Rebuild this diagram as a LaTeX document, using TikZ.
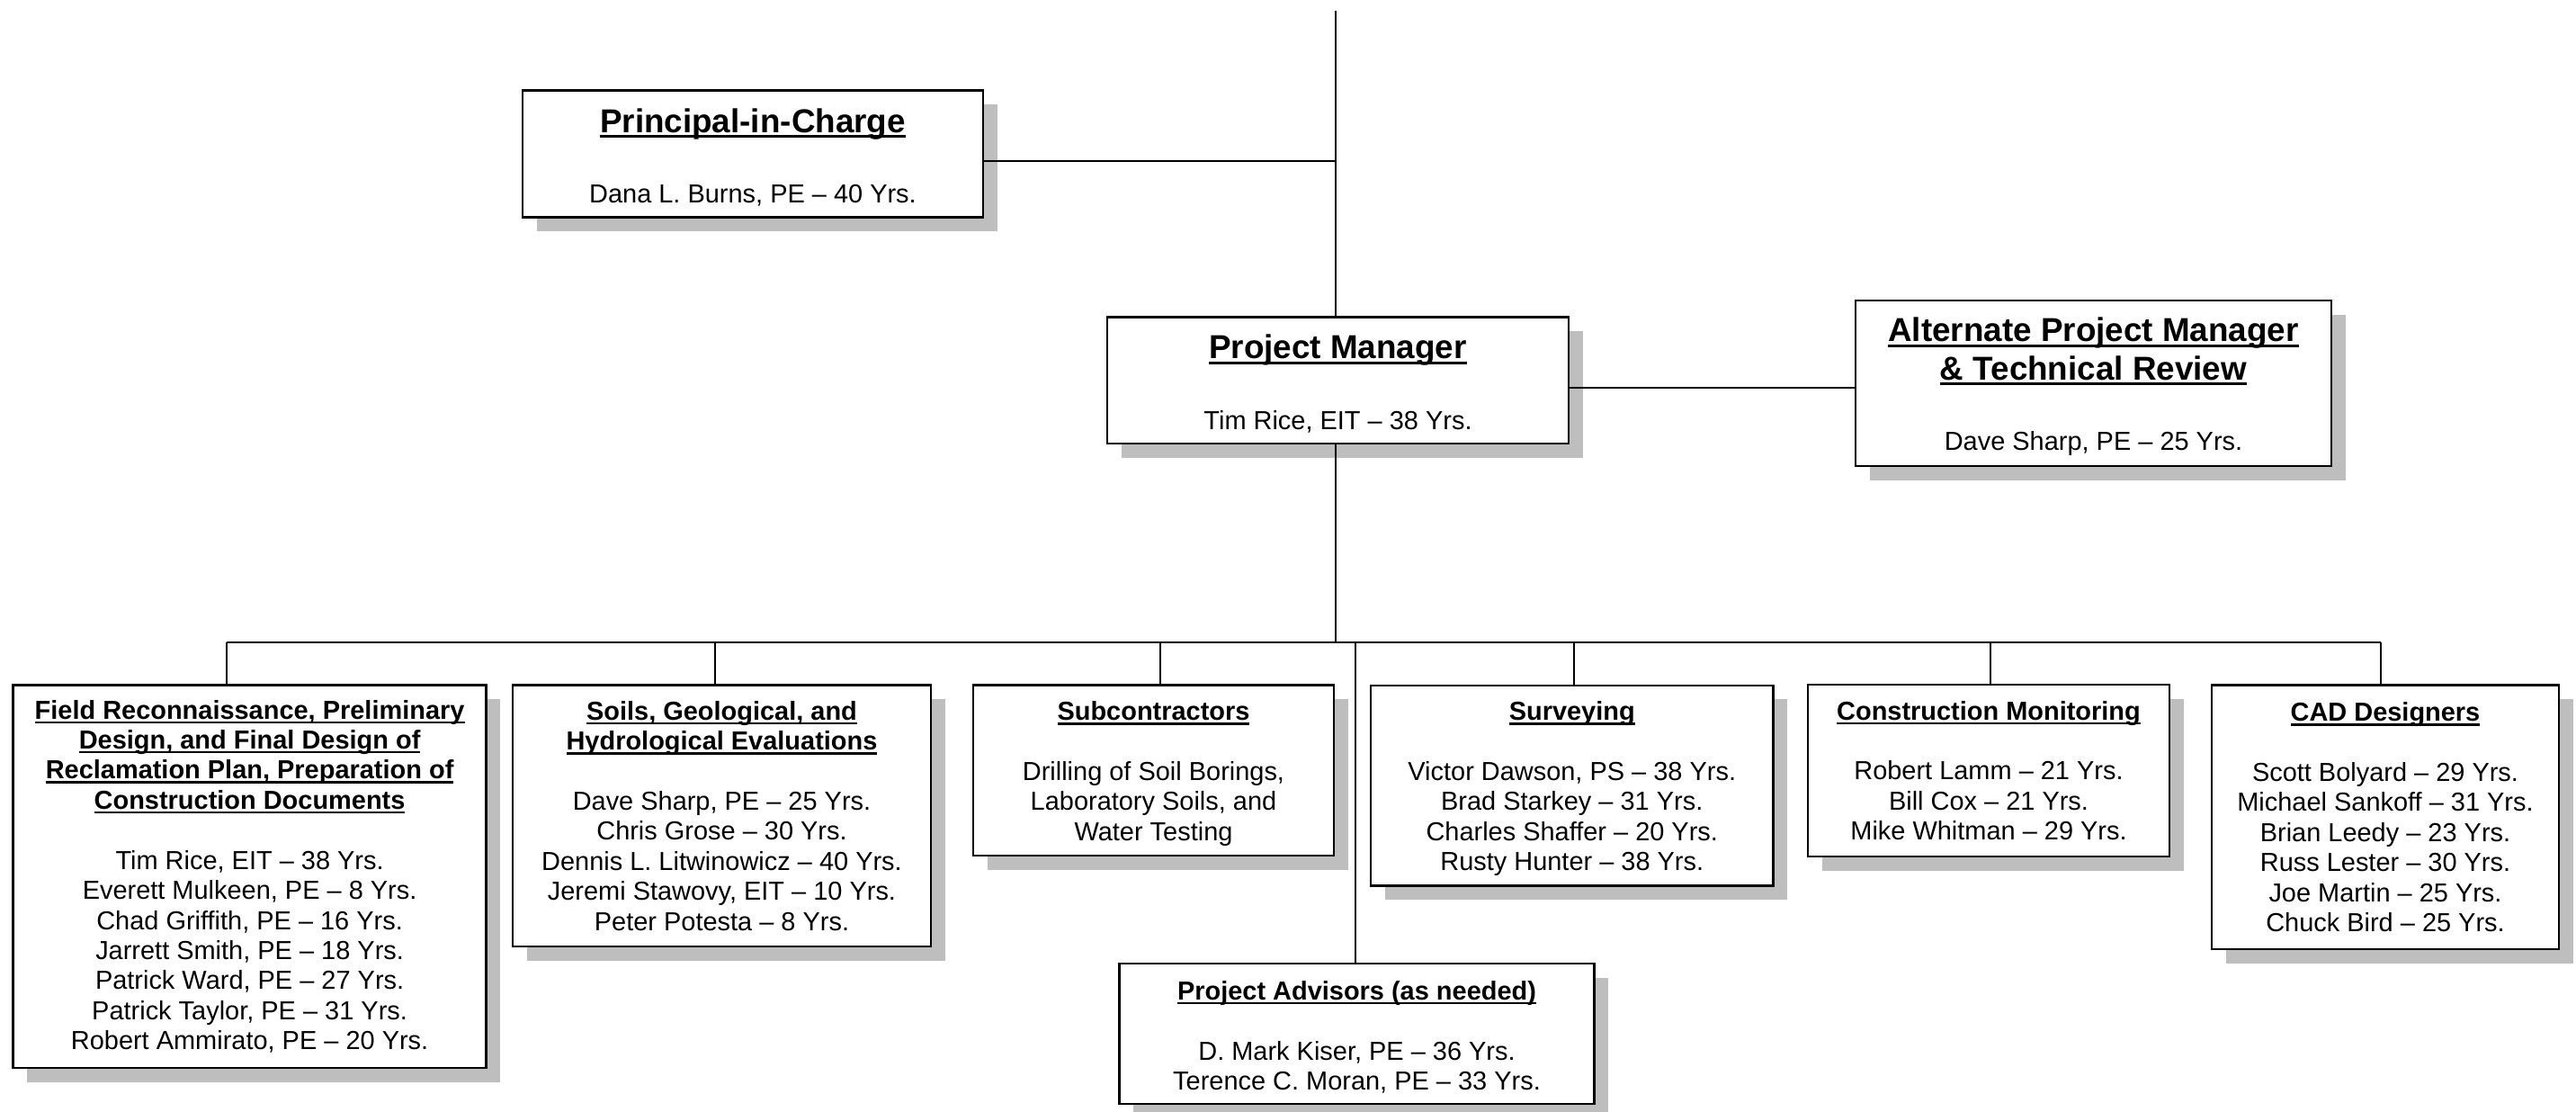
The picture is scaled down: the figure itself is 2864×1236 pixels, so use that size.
\documentclass[tikz,border=0pt]{standalone}
\usepackage{fontspec}
\setmainfont{Liberation Sans}
\usetikzlibrary{shadows}
\definecolor{shadowgray}{RGB}{190,190,190}
\newcommand{\ulx}[1]{\leavevmode\setbox0\hbox{#1}\rlap{\rule[-0.17em]{\wd0}{0.085em}}\box0}
\newcommand{\hdr}[1]{{\bfseries\ulx{#1}}}
\newcommand{\tophdr}[1]{{\fontsize{14}{16.1}\selectfont\bfseries\ulx{#1}}}
\newcommand{\orgfont}{\fontsize{11}{12.7}\selectfont\lineskiplimit-50pt\relax}
\newcommand{\topstrut}[1]{\rule{0pt}{#1}}
\begin{document}
\begin{tikzpicture}[x=0.38pt,y=-0.38pt,
  box/.style={draw=black,line width=0.9pt,fill=white,inner sep=0pt,align=center,
    drop shadow={shadow xshift=6pt,shadow yshift=-6pt,opacity=1,fill=shadowgray}},
  conn/.style={draw=black,line width=0.7pt},
  font=\orgfont]
\path[use as bounding box,fill=white] (0,0) rectangle (2864,1236);

% top level boxes
\node[box,minimum width=194.6pt,minimum height=53.6pt] (prin) at (837,171)
  {\topstrut{13pt}\tophdr{Principal-in-Charge}\\[17pt]Dana L. Burns, PE – 40 Yrs.};
\node[box,minimum width=194.9pt,minimum height=53.4pt] (pm) at (1487.5,422.75)
  {\topstrut{13pt}\tophdr{Project Manager}\\[17pt]Tim Rice, EIT – 38 Yrs.};
\node[box,minimum width=201pt,minimum height=69.9pt] (alt) at (2327.5,426)
  {\topstrut{13pt}\tophdr{Alternate Project Manager}\\[3.3pt]\tophdr{\& Technical Review}\\[17pt]Dave Sharp, PE – 25 Yrs.};

% lower boxes
\node[box,minimum width=199.9pt,minimum height=161.7pt] (field) at (277.6,974.3)
  {\hdr{Field Reconnaissance, Preliminary}\\ \hdr{Design, and Final Design of}\\
   \hdr{Reclamation Plan, Preparation of}\\ \hdr{Construction Documents}\\[12.7pt]
   Tim Rice, EIT – 38 Yrs.\\ Everett Mulkeen, PE – 8 Yrs.\\ Chad Griffith, PE – 16 Yrs.\\
   Jarrett Smith, PE – 18 Yrs.\\ Patrick Ward, PE – 27 Yrs.\\ Patrick Taylor, PE – 31 Yrs.\\
   Robert Ammirato, PE – 20 Yrs.};
\node[box,minimum width=176.5pt,minimum height=110.4pt] (soils) at (802.5,906.8)
  {\hdr{Soils, Geological, and}\\ \hdr{Hydrological Evaluations}\\[12.7pt]
   Dave Sharp, PE – 25 Yrs.\\ Chris Grose – 30 Yrs.\\ Dennis L. Litwinowicz – 40 Yrs.\\
   Jeremi Stawovy, EIT – 10 Yrs.\\ Peter Potesta – 8 Yrs.};
\node[box,minimum width=152.4pt,minimum height=72pt] (sub) at (1282.5,856.3)
  {\topstrut{10.8pt}\hdr{Subcontractors}\\[12.7pt]Drilling of Soil Borings,\\ Laboratory Soils, and\\ Water Testing};
\node[box,minimum width=170.1pt,minimum height=84.6pt] (surv) at (1747.75,873)
  {\topstrut{10.8pt}\hdr{Surveying}\\[12.7pt]Victor Dawson, PS – 38 Yrs.\\ Brad Starkey – 31 Yrs.\\
   Charles Shaffer – 20 Yrs.\\ Rusty Hunter – 38 Yrs.};
\node[box,minimum width=152.8pt,minimum height=72.7pt] (cm) at (2211,856.6)
  {\hdr{Construction Monitoring}\\[12.7pt]Robert Lamm – 21 Yrs.\\ Bill Cox – 21 Yrs.\\ Mike Whitman – 29 Yrs.};
\node[box,minimum width=146.7pt,minimum height=111.5pt] (cad) at (2652,908.3)
  {\hdr{CAD Designers}\\[12.7pt]Scott Bolyard – 29 Yrs.\\ Michael Sankoff – 31 Yrs.\\
   Brian Leedy – 23 Yrs.\\ Russ Lester – 30 Yrs.\\ Joe Martin – 25 Yrs.\\ Chuck Bird – 25 Yrs.};
\node[box,minimum width=200.6pt,minimum height=59.3pt] (adv) at (1508.5,1149)
  {\topstrut{10.8pt}\hdr{Project Advisors (as needed)}\\[12.7pt]D. Mark Kiser, PE – 36 Yrs.\\ Terence C. Moran, PE – 33 Yrs.};

% connector points
\coordinate (ttop) at (1485,12);
\coordinate (pj) at (1485,179);
\coordinate (aj) at (1900,431);
\coordinate (bus) at (1485,714);
\coordinate (b1) at (252,714);
\coordinate (b2) at (795,714);
\coordinate (b3) at (1290,714);
\coordinate (b4) at (1750,714);
\coordinate (b5) at (2213,714);
\coordinate (b6) at (2647,714);
\coordinate (b7) at (1507,714);

% connectors
\draw[conn] (ttop) -- (ttop |- pm.north);
\draw[conn] (prin.east |- pj) -- (pj);
\draw[conn] (ttop |- pm.south) -- (bus);
\draw[conn] (pm.east |- aj) -- (alt.west |- aj);
\draw[conn] (b1) -- (b6);
\draw[conn] (b1) -- (b1 |- field.north);
\draw[conn] (b2) -- (b2 |- soils.north);
\draw[conn] (b3) -- (b3 |- sub.north);
\draw[conn] (b4) -- (b4 |- surv.north);
\draw[conn] (b5) -- (b5 |- cm.north);
\draw[conn] (b6) -- (b6 |- cad.north);
\draw[conn] (b7) -- (b7 |- adv.north);
\end{tikzpicture}
\end{document}
